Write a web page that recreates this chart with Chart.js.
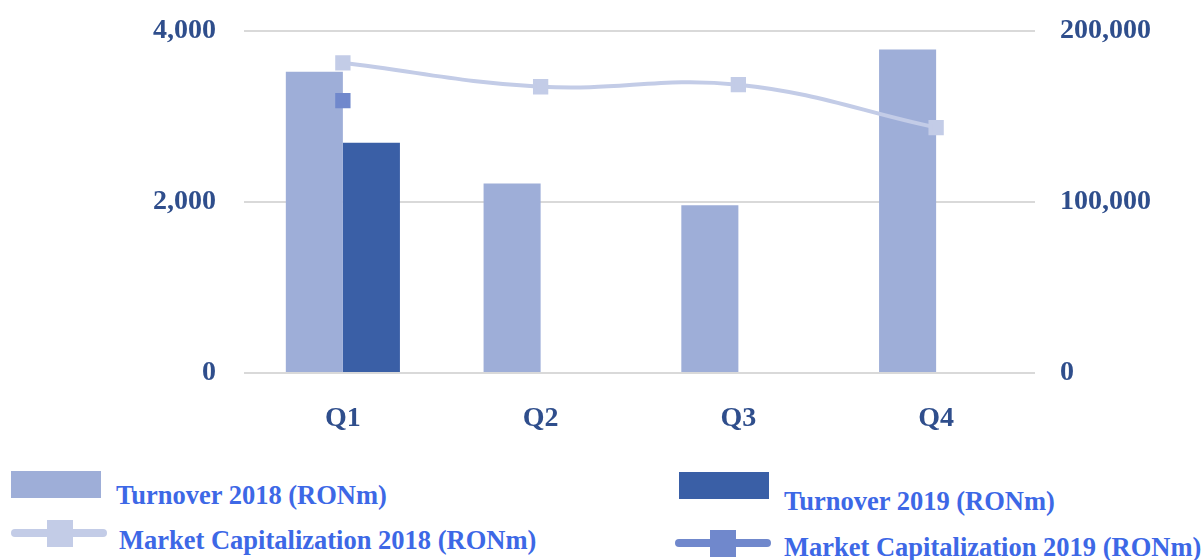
<!DOCTYPE html>
<html>
<head>
<meta charset="utf-8">
<script src="https://cdn.jsdelivr.net/npm/chart.js@4"></script>
<style>
  body { margin: 0; background: #fff; width: 1203px; height: 560px; overflow: hidden; position: relative; }
  #wrap { position: absolute; left: 0; top: -14px; width: 1203px; height: 464px; }
  .lg { position: absolute; }
  .txt { position: absolute; font-family: "Liberation Serif", serif; font-weight: bold; font-size: 26.5px; color: #3d68e6; white-space: nowrap; }
</style>
</head>
<body>
<div id="wrap"><canvas id="chart" width="1203" height="464"></canvas></div>

<div class="lg" style="left:11px;top:471px;width:90px;height:27px;background:#9eaed8"></div>
<div class="txt" style="left:116px;top:480px">Turnover 2018 (RONm)</div>
<div class="lg" style="left:11px;top:529px;width:96px;height:8px;background:#c3cce7;border-radius:4px"></div>
<div class="lg" style="left:47px;top:520px;width:26px;height:27px;background:#c3cce7"></div>
<div class="txt" style="left:119px;top:525px">Market Capitalization 2018 (RONm)</div>

<div class="lg" style="left:679px;top:472px;width:90px;height:27px;background:#3a5fa6"></div>
<div class="txt" style="left:784px;top:486px">Turnover 2019 (RONm)</div>
<div class="lg" style="left:675px;top:539px;width:96px;height:8px;background:#7088cc;border-radius:4px"></div>
<div class="lg" style="left:710px;top:530px;width:26px;height:27px;background:#7088cc"></div>
<div class="txt" style="left:784px;top:532px">Market Capitalization 2019 (RONm)</div>

<script>
const quarters = ['Q1', 'Q2', 'Q3', 'Q4'];
const turnover2018 = [3520, 2215, 1960, 3780];
const turnover2019 = [2690, null, null, null];
const marketCap2018 = [181300, 167300, 168500, 143400];
const marketCap2019 = [159200, null, null, null];

const tickFont = { family: 'Liberation Serif', weight: 'bold', size: 28 };
const tickColor = '#2f4e8c';

const ctx = document.getElementById('chart').getContext('2d');
const chart = new Chart(ctx, {
  type: 'bar',
  data: {
    labels: quarters,
    datasets: [
      {
        type: 'line',
        label: 'Market Capitalization 2018 (RONm)',
        data: marketCap2018,
        yAxisID: 'y1',
        borderColor: '#c3cce7',
        backgroundColor: '#c3cce7',
        borderWidth: 4,
        tension: 0.4,
        pointStyle: 'rect',
        pointRadius: 8,
        pointHoverRadius: 8,
        order: 0,
      },
      {
        type: 'line',
        label: 'Market Capitalization 2019 (RONm)',
        data: marketCap2019,
        yAxisID: 'y1',
        borderColor: '#7088cc',
        backgroundColor: '#7088cc',
        borderWidth: 4,
        pointStyle: 'rect',
        pointRadius: 8,
        pointHoverRadius: 8,
        order: 0,
      },
      {
        label: 'Turnover 2018 (RONm)',
        data: turnover2018,
        backgroundColor: '#9eaed8',
        categoryPercentage: 0.577,
        barPercentage: 1,
        order: 1,
      },
      {
        label: 'Turnover 2019 (RONm)',
        data: turnover2019,
        backgroundColor: '#3a5fa6',
        categoryPercentage: 0.577,
        barPercentage: 1,
        order: 1,
      },
    ],
  },
  options: {
    responsive: false,
    animation: false,
    layout: { padding: { top: 5, right: 0, left: 0, bottom: 0 } },
    plugins: { legend: { display: false }, tooltip: { enabled: false } },
    scales: {
      x: {
        grid: { display: false, drawTicks: false },
        border: { display: false },
        ticks: { font: tickFont, color: tickColor, padding: 29 },
        afterFit: (s) => { s.height = 77; },
      },
      y: {
        position: 'left',
        min: 0, max: 4000,
        ticks: { stepSize: 2000, font: tickFont, color: tickColor, padding: 28,
          callback: (v) => v.toLocaleString('en-US') },
        grid: { color: '#d9d9d9', lineWidth: 2, drawTicks: false },
        border: { display: false },
        afterFit: (s) => { s.width = 244; },
      },
      y1: {
        position: 'right',
        min: 0, max: 200000,
        ticks: { stepSize: 100000, font: tickFont, color: tickColor, padding: 25,
          callback: (v) => v.toLocaleString('en-US') },
        grid: { display: false, drawTicks: false },
        border: { display: false },
        afterFit: (s) => { s.width = 168; },
      },
    },
  },
});
</script>
</body>
</html>
